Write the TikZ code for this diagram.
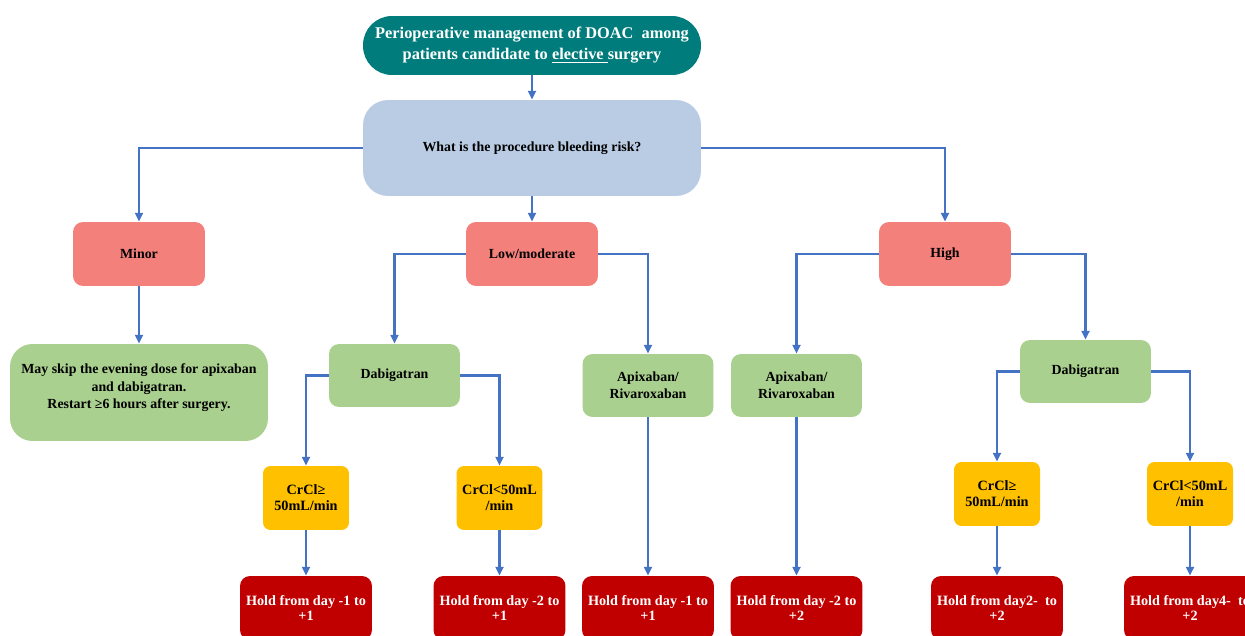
\documentclass[tikz,border=0pt]{standalone}
\usepackage{fontspec}
\setmainfont{Liberation Serif}
\definecolor{titleteal}{RGB}{0,124,124}
\definecolor{asklblue}{RGB}{186,204,228}
\definecolor{risksalmon}{RGB}{244,128,124}
\definecolor{druggreen}{RGB}{169,208,142}
\definecolor{crclgold}{RGB}{255,192,0}
\definecolor{holdred}{RGB}{192,0,0}
\definecolor{arrowblue}{RGB}{68,114,196}
\usetikzlibrary{positioning,arrows.meta}

\begin{document}
\begin{tikzpicture}[x=0.02cm,y=-0.02cm,
    box/.style={rounded corners=0.2cm,align=center,inner sep=2pt,font=\fontsize{7.9}{9.9}\selectfont\bfseries},
    riskbox/.style={box,fill=risksalmon,minimum width=2.64cm,minimum height=1.28cm},
    drugbox/.style={box,fill=druggreen,minimum width=2.62cm,minimum height=1.26cm},
    crclbox/.style={box,fill=crclgold,minimum width=1.72cm,minimum height=1.28cm,rounded corners=0.15cm,font=\fontsize{8.1}{9}\selectfont\bfseries},
    holdbox/.style={box,fill=holdred,text=white,minimum width=2.64cm,minimum height=1.28cm,font=\fontsize{8.1}{9}\selectfont\bfseries},
    arr/.style={-{Triangle[length=5pt,width=4.5pt]},line width=1.5pt,draw=arrowblue}]
    \useasboundingbox (0,0) rectangle (1245,636);
    \node[box,fill=titleteal,text=white,minimum width=6.76cm,minimum height=1.18cm,rounded corners=0.58cm,font=\fontsize{9.3}{12}\selectfont\bfseries] (top) at (532,45.5) {Perioperative management of DOAC\ \ among\\patients candidate to \underline{elective\ }surgery};
    \node[box,fill=asklblue,minimum width=6.76cm,minimum height=1.92cm,rounded corners=0.5cm] (ask) at (532,148) {What is the procedure bleeding risk?};
    \node[riskbox] (minor) at (139,254) {Minor};
    \node[riskbox] (lowmod) at (532,254) {Low/moderate};
    \node[riskbox] (high) at (945,254) {High};
    \node[drugbox,minimum width=5.16cm,minimum height=1.94cm,rounded corners=0.45cm] (skip) at (139,392.5) {May skip the evening dose for apixaban\\and dabigatran.\\Restart ≥6 hours after surgery.\\[-3pt]\mbox{}};
    \node[drugbox] (dabilow) at (394.5,375.5) {Dabigatran};
    \node[drugbox] (apixlow) at (648,385.5) {Apixaban/\\Rivaroxaban};
    \node[drugbox] (apixhigh) at (796.5,385.5) {Apixaban/\\Rivaroxaban};
    \node[drugbox] (dabihigh) at (1085.5,371.5) {Dabigatran};
    \node[crclbox] (crcla) at (306,498) {CrCl≥\\50mL/min};
    \node[crclbox] (crclb) at (499.5,498) {CrCl<50mL\\/min};
    \node[crclbox] (crclc) at (997,494) {CrCl≥\\50mL/min};
    \node[crclbox] (crcld) at (1190,494) {CrCl<50mL\\/min};
    \node[holdbox] (holda) at (306,608) {Hold from day -1 to\\+1};
    \node[holdbox] (holdb) at (499.5,608) {Hold from day -2 to\\+1};
    \node[holdbox] (holdc) at (648,608) {Hold from day -1 to\\+1};
    \node[holdbox] (holdd) at (796.5,608) {Hold from day -2 to\\+2};
    \node[holdbox] (holde) at (997,608) {Hold from day2-\ \ to\\+2};
    \node[holdbox] (holdf) at (1190,608) {Hold from day4-\ \ to\\+2};
    \draw[arr] (top) -- (ask);
    \draw[arr] (ask) -- (lowmod);
    \draw[arr] (ask.west) -| (minor.north);
    \draw[arr] (ask.east) -| (high.north);
    \draw[arr] (minor) -- (skip);
    \draw[arr] (lowmod.west) -| (dabilow.north);
    \draw[arr] (lowmod.east) -| (apixlow.north);
    \draw[arr] (high.west) -| (apixhigh.north);
    \draw[arr] (high.east) -| (dabihigh.north);
    \draw[arr] (dabilow.west) -| (crcla.north);
    \draw[arr] (dabilow.east) -| (crclb.north);
    \draw[arr] (dabihigh.west) -| (crclc.north);
    \draw[arr] (dabihigh.east) -| (crcld.north);
    \foreach \from/\to in {crcla/holda,crclb/holdb,apixlow/holdc,apixhigh/holdd,crclc/holde,crcld/holdf}
        \draw[arr] (\from) -- (\to);
\end{tikzpicture}
\end{document}
